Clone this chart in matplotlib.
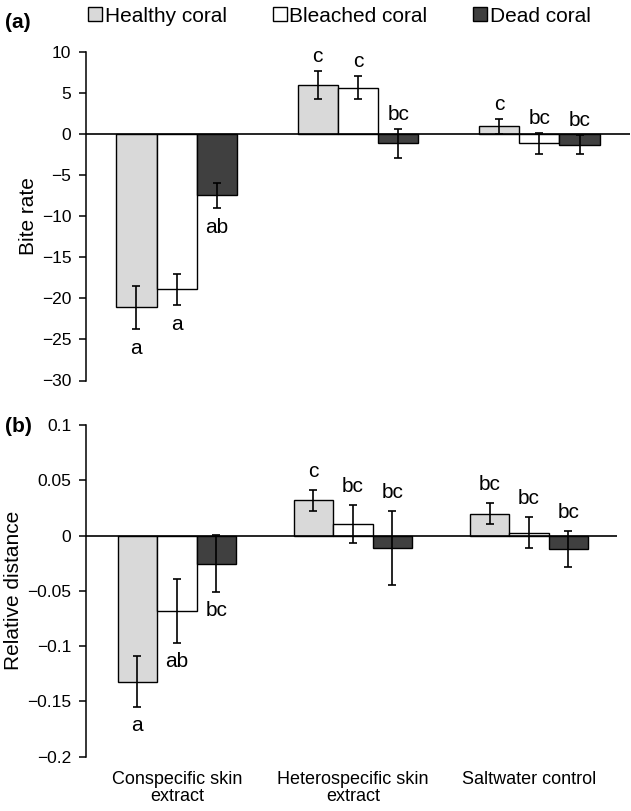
import matplotlib
matplotlib.use('Agg')
import matplotlib.pyplot as plt
import numpy as np
from matplotlib.ticker import FuncFormatter, FixedLocator

plt.rcParams['font.family'] = ['Liberation Sans', 'DejaVu Sans']

# ---------------- data ----------------
treatments = ['Conspecific skin\nextract', 'Heterospecific skin\nextract', 'Saltwater control']
series = ['Healthy coral', 'Bleached coral', 'Dead coral']

bite_healthy = [-21.1, 5.98, 0.96]
bite_healthy_se = [2.6, 1.7, 0.97]
bite_bleached = [-18.9, 5.66, -1.1]
bite_bleached_se = [1.85, 1.4, 1.25]
bite_dead = [-7.45, -1.07, -1.27]
bite_dead_se = [1.55, 1.77, 1.14]
bite_letters_healthy = ['a', 'c', 'c']
bite_letters_bleached = ['a', 'c', 'bc']
bite_letters_dead = ['ab', 'bc', 'bc']

dist_healthy = [-0.132, 0.0318, 0.0198]
dist_healthy_se = [0.023, 0.0093, 0.0093]
dist_bleached = [-0.068, 0.0105, 0.0026]
dist_bleached_se = [0.029, 0.0173, 0.0142]
dist_dead = [-0.0254, -0.011, -0.0121]
dist_dead_se = [0.0256, 0.0336, 0.0162]
dist_letters_healthy = ['a', 'c', 'bc']
dist_letters_bleached = ['ab', 'bc', 'bc']
dist_letters_dead = ['bc', 'bc', 'bc']

letter_below = [True, False, False]  # per treatment

bite_ticks = [10, 5, 0, -5, -10, -15, -20, -25, -30]
dist_ticks = [0.1, 0.05, 0, -0.05, -0.1, -0.15, -0.2]

# ---------------- style ----------------
colors = ['#d9d9d9', '#ffffff', '#404040']
W, H = 631, 811
fig = plt.figure(figsize=(W / 100, H / 100), dpi=100)


def frac_box(x0, x1, ytop, ybot):
    return [x0 / W, 1 - ybot / H, (x1 - x0) / W, (ybot - ytop) / H]


ax_a = fig.add_axes(frac_box(86, 630, 52.3, 380.5))
ax_b = fig.add_axes(frac_box(86, 617, 425, 756.7))


def fmt(v, pos):
    s = '%g' % v
    return s.replace('-', '\u2212')


def draw(ax, means, ses, letters, ticks, xlim, width, up_pad, down_pad):
    x = np.arange(len(treatments))
    bars = []
    for i, (m, s, l, c) in enumerate(zip(means, ses, letters, colors)):
        xi = x + (i - 1) * width
        b = ax.bar(xi, m, width=width, color=c, edgecolor='black', linewidth=1.0,
                   zorder=2, label=series[i])
        bars.append(b)
        ax.errorbar(xi, m, yerr=s, fmt='none', ecolor='black', elinewidth=1.2,
                    capsize=3.2, capthick=1.2, zorder=3)
        for j in range(len(x)):
            if letter_below[j]:
                ax.annotate(l[j], (xi[j], m[j] - s[j]), xytext=(0, -down_pad),
                            textcoords='offset pixels', ha='center', va='top',
                            fontsize=15)
            else:
                ax.annotate(l[j], (xi[j], m[j] + s[j]), xytext=(0, up_pad),
                            textcoords='offset pixels', ha='center', va='baseline',
                            fontsize=15)
    ax.axhline(0, color='black', linewidth=1.2, zorder=4)
    ax.set_xlim(*xlim)
    ax.set_ylim(min(ticks), max(ticks))
    ax.yaxis.set_major_locator(FixedLocator(ticks))
    ax.yaxis.set_major_formatter(FuncFormatter(fmt))
    for sp in ['top', 'right', 'bottom']:
        ax.spines[sp].set_visible(False)
    ax.spines['left'].set_linewidth(1.1)
    ax.tick_params(axis='y', direction='out', length=5, width=1.1, labelsize=12.5, pad=5.5)
    ax.set_facecolor('none')
    return bars


bars = draw(ax_a, [bite_healthy, bite_bleached, bite_dead],
            [bite_healthy_se, bite_bleached_se, bite_dead_se],
            [bite_letters_healthy, bite_letters_bleached, bite_letters_dead],
            bite_ticks, (-0.5, 2.5), 0.222, 9, 10)
ax_a.set_xticks([])
ax_a.set_ylabel('Bite rate', fontsize=15, labelpad=3)

draw(ax_b, [dist_healthy, dist_bleached, dist_dead],
     [dist_healthy_se, dist_bleached_se, dist_dead_se],
     [dist_letters_healthy, dist_letters_bleached, dist_letters_dead],
     dist_ticks, (-0.516, 2.5), 0.224, 13, 9)
ax_b.set_xticks(np.arange(len(treatments)))
ax_b.set_xticklabels(treatments, fontsize=13, linespacing=1.05)
ax_b.tick_params(axis='x', length=0, pad=10)
ax_b.set_ylabel('Relative distance', fontsize=15, labelpad=3)

fig.legend(handles=bars, labels=series, loc='center left',
           bbox_to_anchor=(88 / W, 1 - 16 / H), ncol=3, frameon=False,
           fontsize=15, handlelength=0.68, handleheight=0.68, handletextpad=0.12,
           columnspacing=2.2, borderpad=0, borderaxespad=0)

fig.text(5 / W, 1 - 22 / H, '(a)', fontsize=15, fontweight='bold', va='center', ha='left')
fig.text(5 / W, 1 - 427 / H, '(b)', fontsize=15, fontweight='bold', va='center', ha='left')

fig.savefig('out.png', dpi=100)
